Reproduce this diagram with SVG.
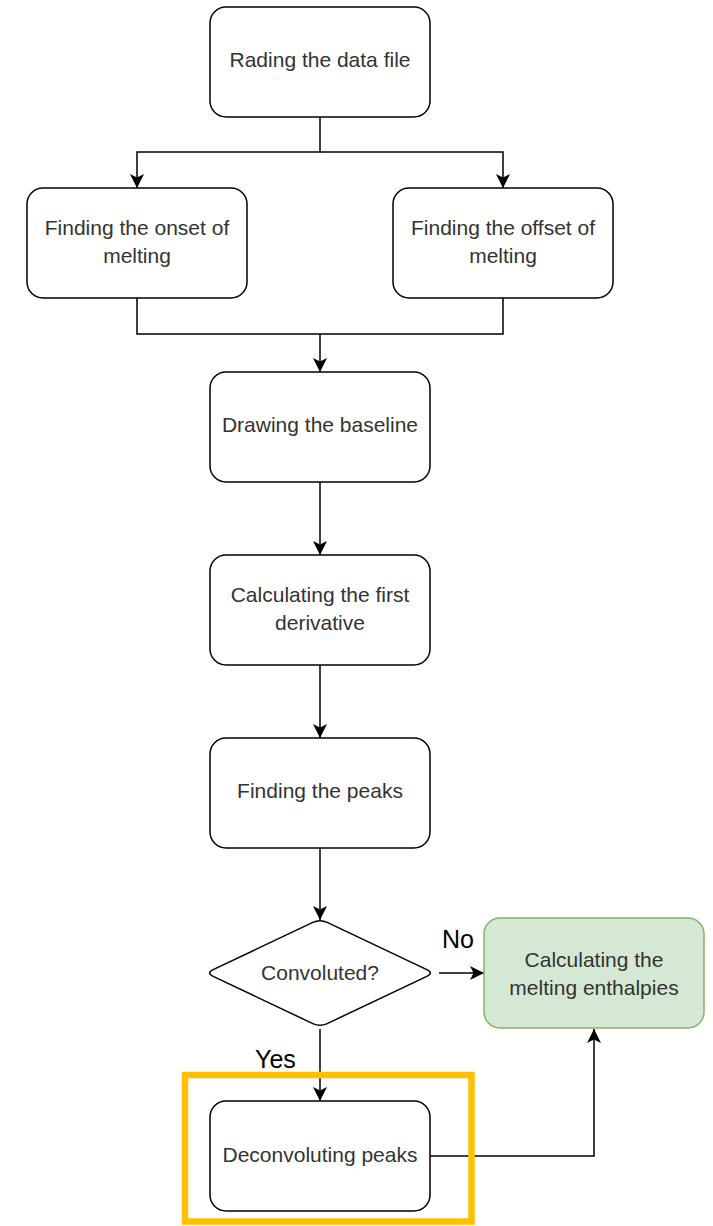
<svg xmlns="http://www.w3.org/2000/svg" width="713" height="1226" viewBox="0 0 713 1226">
<style>
.box{fill:#ffffff;stroke:#000000;stroke-width:1.5}
.green{fill:#d5e8d4;stroke:#82b366;stroke-width:1.5}
.t{font-family:"Liberation Sans",Arial,sans-serif;font-size:21px;fill:#333333;text-anchor:middle}
.lbl{font-family:"Liberation Sans",Arial,sans-serif;font-size:25px;fill:#000000}
.c{fill:none;stroke:#000000;stroke-width:1.5}
</style>
<defs>
<marker id="arr" markerUnits="userSpaceOnUse" markerWidth="14" markerHeight="14" viewBox="0 0 14 14" refX="14" refY="7" orient="auto">
<path d="M0,0 L14,7 L0,14 L3.5,7 Z" fill="#000000"/>
</marker>
</defs>
<rect width="713" height="1226" fill="#ffffff"/>
<g id="connectors">
<path class="c" d="M320,117 V152 H137 V188" marker-end="url(#arr)"/>
<path class="c" d="M320,152 H503 V188" marker-end="url(#arr)"/>
<path class="c" d="M137,298 V334 H503 V298"/>
<path class="c" d="M320,334 V372" marker-end="url(#arr)"/>
<path class="c" d="M320,482 V555" marker-end="url(#arr)"/>
<path class="c" d="M320,665 V738" marker-end="url(#arr)"/>
<path class="c" d="M320,848 V920" marker-end="url(#arr)"/>
<path class="c" d="M439,973 H484" marker-end="url(#arr)"/>
<path class="c" d="M320,1029 V1101" marker-end="url(#arr)"/>
<path class="c" d="M430,1156 H594 V1029" marker-end="url(#arr)"/>
<text class="lbl" x="442" y="948">No</text>
<text class="lbl" x="255" y="1068">Yes</text>
</g>
<g id="n-read">
<rect class="box" x="210" y="7" width="220" height="110" rx="16"/>
<text class="t" x="320" y="67">Rading the data file</text>
</g>
<g id="n-onset">
<rect class="box" x="27" y="188" width="220" height="110" rx="16"/>
<text class="t" x="137" y="235">Finding the onset of</text>
<text class="t" x="137" y="263">melting</text>
</g>
<g id="n-offset">
<rect class="box" x="393" y="188" width="220" height="110" rx="16"/>
<text class="t" x="503" y="235">Finding the offset of</text>
<text class="t" x="503" y="263">melting</text>
</g>
<g id="n-baseline">
<rect class="box" x="210" y="372" width="220" height="110" rx="16"/>
<text class="t" x="320" y="432">Drawing the baseline</text>
</g>
<g id="n-deriv">
<rect class="box" x="210" y="555" width="220" height="110" rx="16"/>
<text class="t" x="320" y="602">Calculating the first</text>
<text class="t" x="320" y="630">derivative</text>
</g>
<g id="n-peaks">
<rect class="box" x="210" y="738" width="220" height="110" rx="16"/>
<text class="t" x="320" y="798">Finding the peaks</text>
</g>
<g id="n-conv">
<path class="box" d="M312.8,922.4 Q320,919 327.2,922.4 L426.8,969.6 Q434,973 426.8,976.4 L327.2,1023.6 Q320,1027 312.8,1023.6 L213.2,976.4 Q206,973 213.2,969.6 Z"/>
<text class="t" x="320" y="980">Convoluted?</text>
</g>
<g id="n-enth">
<rect class="green" x="484" y="918" width="220" height="110" rx="16"/>
<text class="t" x="594" y="967">Calculating the</text>
<text class="t" x="594" y="995">melting enthalpies</text>
</g>
<g id="n-deconv">
<rect class="box" x="210" y="1101" width="220" height="110" rx="16"/>
<text class="t" x="320" y="1162">Deconvoluting peaks</text>
</g>
<g id="highlight">
<rect x="185" y="1075" width="286.5" height="146.5" fill="none" stroke="#ffc000" stroke-width="6.5"/>
</g>
</svg>
